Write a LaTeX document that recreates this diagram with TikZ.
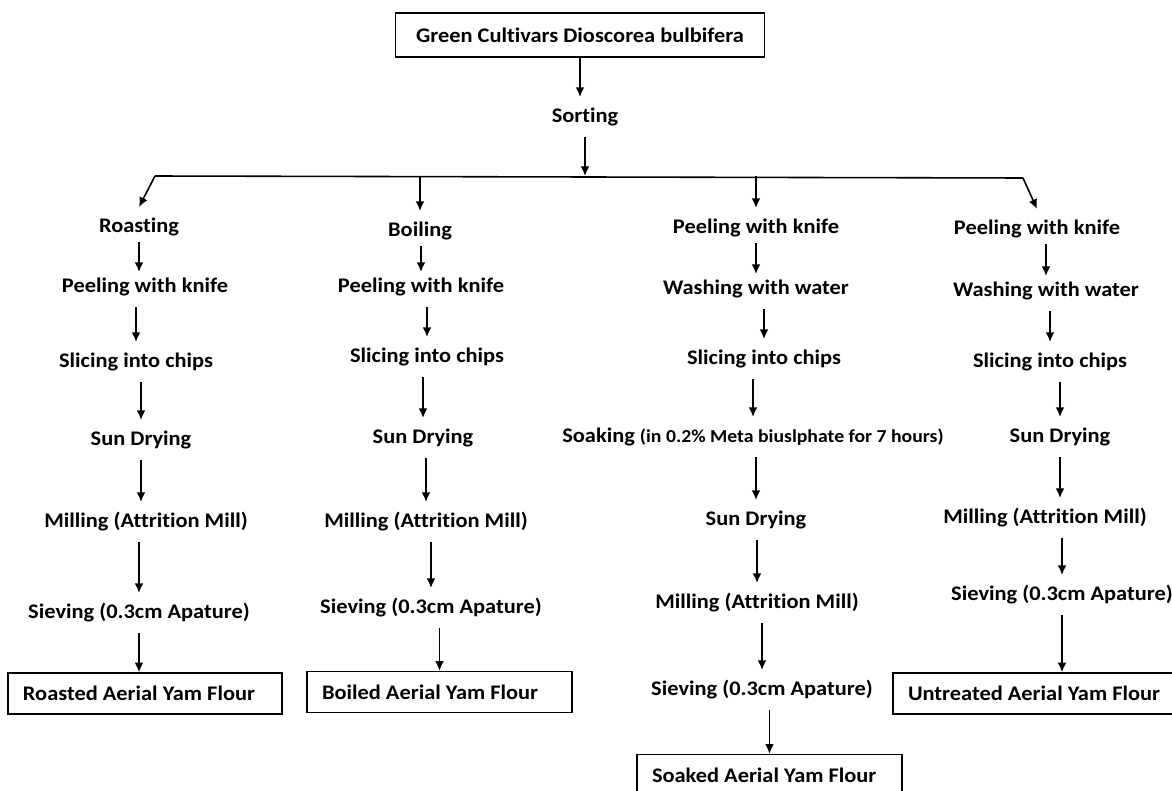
\documentclass[tikz,border=0pt]{standalone}
\usepackage{fontspec}
\setmainfont{Carlito}[FakeStretch=1.08, RawFeature={-liga;-clig;-calt;-dlig}]
\usepackage{tikz}
\usetikzlibrary{arrows.meta}

\begin{document}
\begin{tikzpicture}[
		>={Latex[length=5.5pt,width=5pt]},
		stepnode/.style={font=\fontsize{11.8}{14}\selectfont\bfseries, inner xsep=2pt, inner ysep=0.2cm, text height=8.5pt, text depth=2.5pt},
		boxnode/.style={draw, line width=0.8pt, font=\fontsize{11.8}{14}\selectfont\bfseries, align=flush left, inner xsep=0.3cm, minimum height=0.82cm},
		flow/.style={->, line width=0.9pt},
		tight/.style={shorten <=-0.1cm, shorten >=-0.1cm}
	]

	\useasboundingbox (0,0) rectangle (23.44,-15.82);

	\node[boxnode, align=center, minimum width=7.38cm, minimum height=0.88cm] (green) at (11.6,-0.7) {Green Cultivars Dioscorea bulbifera};
	\node[stepnode] (sort) at (11.7,-2.34) {Sorting};

	\coordinate (bl) at (3.1,-3.52);
	\coordinate (br) at (20.46,-3.56);

	% roasted
	\node[stepnode] (roast) at (2.78,-4.54) {Roasting};
	\node[stepnode] (peelA) at (2.9,-5.74) {Peeling with knife};
	\node[stepnode] (sliceA) at (2.72,-7.24) {Slicing into chips};
	\node[stepnode] (dryA) at (2.82,-8.8) {Sun Drying};
	\node[stepnode] (millA) at (2.92,-10.44) {Milling (Attrition Mill)};
	\node[stepnode] (sieveA) at (2.78,-12.26) {Sieving (0.3cm Apature)};
	\node[boxnode, text width=4.88cm] (flourA) at (2.9,-13.87) {Roasted Aerial Yam Flour};

	% boiled
	\node[stepnode] (boil) at (8.4,-4.62) {Boiling};
	\node[stepnode] (peelB) at (8.42,-5.74) {Peeling with knife};
	\node[stepnode] (sliceB) at (8.54,-7.14) {Slicing into chips};
	\node[stepnode] (dryB) at (8.46,-8.76) {Sun Drying};
	\node[stepnode] (millB) at (8.52,-10.44) {Milling (Attrition Mill)};
	\node[stepnode] (sieveB) at (8.62,-12.16) {Sieving (0.3cm Apature)};
	\node[boxnode, text width=4.7cm] (flourB) at (8.79,-13.84) {Boiled Aerial Yam Flour};

	% soaked
	\node[stepnode] (peelC) at (15.12,-4.56) {Peeling with knife};
	\node[stepnode] (washC) at (15.12,-5.78) {Washing with water};
	\node[stepnode] (sliceC) at (15.28,-7.18) {Slicing into chips};
	\node[stepnode] (soak) at (15.06,-8.74) {Soaking {\fontsize{10.4}{12}\selectfont (in 0.2\% Meta biuslphate for 7 hours)}};
	\node[stepnode] (dryC) at (15.12,-10.4) {Sun Drying};
	\node[stepnode] (millC) at (15.14,-12.06) {Milling (Attrition Mill)};
	\node[stepnode] (sieveC) at (15.24,-13.8) {Sieving (0.3cm Apature)};
	\node[boxnode, text width=4.7cm] (flourC) at (15.39,-15.5) {Soaked Aerial Yam Flour};

	% untreated
	\node[stepnode] (peelD) at (20.74,-4.58) {Peeling with knife};
	\node[stepnode] (washD) at (20.92,-5.82) {Washing with water};
	\node[stepnode] (sliceD) at (21.0,-7.24) {Slicing into chips};
	\node[stepnode] (dryD) at (21.2,-8.74) {Sun Drying};
	\node[stepnode] (millD) at (20.9,-10.36) {Milling (Attrition Mill)};
	\node[stepnode] (sieveD) at (21.24,-11.9) {Sieving (0.3cm Apature)};
	\node[boxnode, text width=5.34cm] (flourD) at (20.83,-13.87) {Untreated Aerial Yam Flour};

	\draw[flow] (green) -- (green |- sort.north);
	\draw[flow] (sort) -- (sort |- bl);
	\draw[line width=0.9pt] (bl) -- (br);
	\draw[flow] (bl) -- (roast.north);
	\draw[flow] (boil |- bl) -- (boil);
	\draw[flow] (peelC |- bl) -- (peelC);
	\draw[flow] (br) -- (peelD.north);

	\draw[flow, tight] (roast) -- (roast |- peelA.north);
	\draw[flow] (sliceA |- peelA.south) -- (sliceA);
	\draw[flow] (dryA |- sliceA.south) -- (dryA);
	\draw[flow] (dryA) -- (dryA |- millA.north);
	\draw[flow] (sieveA |- millA.south) -- (sieveA);
	\draw[flow] (sieveA) -- (sieveA |- flourA.north);

	\draw[flow, tight] (peelB |- boil.south) -- (peelB);
	\draw[flow] (sliceB |- peelB.south) -- (sliceB);
	\draw[flow] (dryB |- sliceB.south) -- (dryB);
	\draw[flow] (millB |- dryB.south) -- (millB);
	\draw[flow] (sieveB |- millB.south) -- (sieveB);
	\draw[flow] (flourB |- sieveB.south) -- (flourB);

	\draw[flow, tight] (washC |- peelC.south) -- (washC);
	\draw[flow] (sliceC |- washC.south) -- (sliceC);
	\draw[flow] (soak |- sliceC.south) -- (soak);
	\draw[flow] (dryC |- soak.south) -- (dryC);
	\draw[flow] (millC |- dryC.south) -- (millC);
	\draw[flow] (sieveC |- millC.south) -- (sieveC);
	\draw[flow] (flourC |- sieveC.south) -- (flourC);

	\draw[flow, tight] (washD |- peelD.south) -- (washD);
	\draw[flow] (sliceD |- washD.south) -- (sliceD);
	\draw[flow] (dryD |- sliceD.south) -- (dryD);
	\draw[flow] (dryD) -- (dryD |- millD.north);
	\draw[flow] (sieveD |- millD.south) -- (sieveD);
	\draw[flow] (sieveD) -- (sieveD |- flourD.north);

\end{tikzpicture}
\end{document}
